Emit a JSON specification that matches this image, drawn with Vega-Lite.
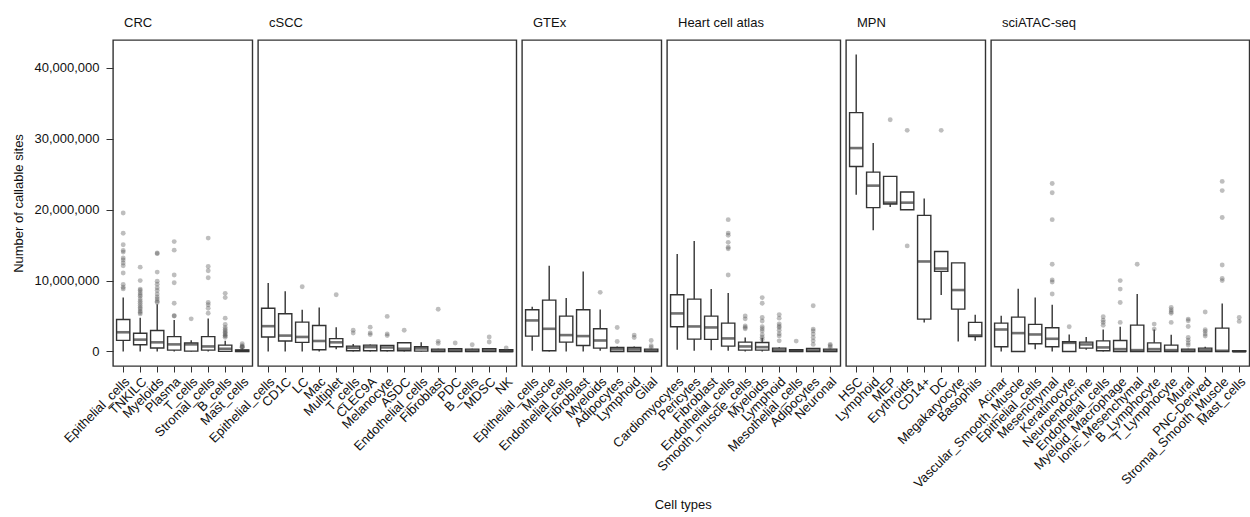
{
  "$schema": "https://vega.github.io/schema/vega-lite/v6.json",
  "padding": {"left": 12, "top": 16, "right": 0, "bottom": 0},
  "background": "white",
  "title": {"text": "Cell types", "orient": "bottom", "anchor": "middle", "frame": "bounds", "fontSize": 13, "fontWeight": "normal", "font": "Liberation Sans", "color": "#111", "offset": 8, "dx": 52},
  "data": {"values": [
    {"ds":"CRC","i":1,"c":"Epithelial_cells","lo":0,"q1":1570000,"md":2710000,"q3":4520000,"hi":7600000,"o":[19530000,16680000,15050000,14250000,14020000,13180000,12900000,12480000,12100000,11070000,9440000,9070000,8830000]},
    {"ds":"CRC","i":2,"c":"TNKILC","lo":0,"q1":950000,"md":1670000,"q3":2570000,"hi":4760000,"o":[11900000,10000000,8800000,8600000,8300000,8000000,7800000,7400000,7100000,6800000,6500000,6200000,6000000,5700000,5500000,5300000]},
    {"ds":"CRC","i":3,"c":"Myeloids","lo":0,"q1":480000,"md":1290000,"q3":2950000,"hi":6670000,"o":[13900000,13800000,11200000,9900000,9500000,9000000,8600000,8100000,7700000,7400000,7100000,6900000]},
    {"ds":"CRC","i":4,"c":"Plasma","lo":0,"q1":190000,"md":1000000,"q3":2100000,"hi":4430000,"o":[15500000,14300000,10800000,9700000,6800000,5000000,5050000]},
    {"ds":"CRC","i":5,"c":"T_cells","lo":0,"q1":50000,"md":1000000,"q3":1210000,"hi":1600000,"o":[4600000]},
    {"ds":"CRC","i":6,"c":"Stromal_cells","lo":0,"q1":190000,"md":710000,"q3":2100000,"hi":4670000,"o":[16000000,12000000,11400000,10400000,6900000,6600000,6100000,5400000]},
    {"ds":"CRC","i":7,"c":"B_cells","lo":0,"q1":20000,"md":380000,"q3":900000,"hi":1500000,"o":[8200000,7600000,4700000,3800000,3400000,3100000,2900000,2700000,2500000,2300000,2200000,2000000]},
    {"ds":"CRC","i":8,"c":"Mast_cells","lo":0,"q1":0,"md":100000,"q3":200000,"hi":450000,"o":[1100000,800000,700000,600000,550000]},
    {"ds":"cSCC","i":1,"c":"Epithelial_cells","lo":0,"q1":2050000,"md":3570000,"q3":6100000,"hi":9670000,"o":[]},
    {"ds":"cSCC","i":2,"c":"CD1C","lo":0,"q1":1480000,"md":2240000,"q3":5330000,"hi":8480000,"o":[]},
    {"ds":"cSCC","i":3,"c":"LC","lo":0,"q1":1290000,"md":2050000,"q3":4140000,"hi":5900000,"o":[9140000]},
    {"ds":"cSCC","i":4,"c":"Mac","lo":0,"q1":240000,"md":1480000,"q3":3670000,"hi":6190000,"o":[]},
    {"ds":"cSCC","i":5,"c":"Multiplet","lo":330000,"q1":670000,"md":1290000,"q3":1810000,"hi":3430000,"o":[8000000]},
    {"ds":"cSCC","i":6,"c":"T_cells","lo":0,"q1":100000,"md":520000,"q3":760000,"hi":1050000,"o":[3000000,2600000]},
    {"ds":"cSCC","i":7,"c":"CLEC9A","lo":0,"q1":100000,"md":620000,"q3":900000,"hi":1000000,"o":[3430000,2620000,2380000]},
    {"ds":"cSCC","i":8,"c":"Melanocyte","lo":0,"q1":100000,"md":570000,"q3":860000,"hi":900000,"o":[4950000,2480000,2240000]},
    {"ds":"cSCC","i":9,"c":"ASDC","lo":0,"q1":100000,"md":380000,"q3":1240000,"hi":1300000,"o":[3000000]},
    {"ds":"cSCC","i":10,"c":"Endothelial_cells","lo":0,"q1":50000,"md":430000,"q3":670000,"hi":1290000,"o":[]},
    {"ds":"cSCC","i":11,"c":"Fibroblast","lo":0,"q1":0,"md":100000,"q3":330000,"hi":400000,"o":[5950000,1430000,1140000]},
    {"ds":"cSCC","i":12,"c":"PDC","lo":0,"q1":0,"md":140000,"q3":380000,"hi":450000,"o":[1190000]},
    {"ds":"cSCC","i":13,"c":"B_cells","lo":0,"q1":0,"md":100000,"q3":330000,"hi":400000,"o":[950000]},
    {"ds":"cSCC","i":14,"c":"MDSC","lo":0,"q1":0,"md":140000,"q3":380000,"hi":450000,"o":[2050000,1330000]},
    {"ds":"cSCC","i":15,"c":"NK","lo":0,"q1":0,"md":50000,"q3":240000,"hi":300000,"o":[480000]},
    {"ds":"GTEx","i":1,"c":"Epithelial_cells","lo":100000,"q1":2170000,"md":4380000,"q3":5890000,"hi":6310000,"o":[]},
    {"ds":"GTEx","i":2,"c":"Muscle","lo":0,"q1":100000,"md":3200000,"q3":7250000,"hi":12100000,"o":[]},
    {"ds":"GTEx","i":3,"c":"Endothelial_cells","lo":0,"q1":1320000,"md":2310000,"q3":4990000,"hi":7540000,"o":[]},
    {"ds":"GTEx","i":4,"c":"Fibroblast","lo":0,"q1":850000,"md":2170000,"q3":5890000,"hi":11300000,"o":[]},
    {"ds":"GTEx","i":5,"c":"Myeloids","lo":100000,"q1":470000,"md":1550000,"q3":3200000,"hi":5930000,"o":[8340000]},
    {"ds":"GTEx","i":6,"c":"Adipocytes","lo":0,"q1":0,"md":330000,"q3":570000,"hi":700000,"o":[3390000,1410000]},
    {"ds":"GTEx","i":7,"c":"Lymphoid","lo":0,"q1":0,"md":300000,"q3":570000,"hi":700000,"o":[2310000,1980000]},
    {"ds":"GTEx","i":8,"c":"Glial","lo":0,"q1":0,"md":100000,"q3":330000,"hi":400000,"o":[1550000,800000,570000]},
    {"ds":"Heart cell atlas","i":1,"c":"Cardiomyocytes","lo":240000,"q1":3490000,"md":5370000,"q3":8000000,"hi":13750000,"o":[]},
    {"ds":"Heart cell atlas","i":2,"c":"Pericytes","lo":100000,"q1":1740000,"md":3530000,"q3":7390000,"hi":15600000,"o":[]},
    {"ds":"Heart cell atlas","i":3,"c":"Fibroblast","lo":190000,"q1":1700000,"md":3390000,"q3":4990000,"hi":8800000,"o":[]},
    {"ds":"Heart cell atlas","i":4,"c":"Endothelial_cells","lo":100000,"q1":750000,"md":1840000,"q3":4000000,"hi":8240000,"o":[18600000,16700000,16400000,15400000,14700000,14500000,10800000]},
    {"ds":"Heart cell atlas","i":5,"c":"Smooth_muscle_cells","lo":0,"q1":190000,"md":710000,"q3":1320000,"hi":1980000,"o":[5000000,4600000,3600000,3400000,3200000]},
    {"ds":"Heart cell atlas","i":6,"c":"Myeloids","lo":0,"q1":190000,"md":610000,"q3":1270000,"hi":1900000,"o":[7600000,6800000,4800000,4300000,3500000,3200000,2900000,2350000,2000000,1700000]},
    {"ds":"Heart cell atlas","i":7,"c":"Lymphoid","lo":0,"q1":0,"md":190000,"q3":470000,"hi":600000,"o":[5200000,4700000,3900000,3600000,3400000,3000000,2500000,2200000,1500000]},
    {"ds":"Heart cell atlas","i":8,"c":"Mesothelial_cells","lo":0,"q1":0,"md":100000,"q3":240000,"hi":300000,"o":[1460000]},
    {"ds":"Heart cell atlas","i":9,"c":"Adipocytes","lo":0,"q1":0,"md":140000,"q3":420000,"hi":500000,"o":[6450000,3160000,2900000,2450000,1980000,1500000,1000000]},
    {"ds":"Heart cell atlas","i":10,"c":"Neuronal","lo":0,"q1":0,"md":100000,"q3":330000,"hi":400000,"o":[1000000,800000,600000]},
    {"ds":"MPN","i":1,"c":"HSC","lo":22100000,"q1":26100000,"md":28700000,"q3":33700000,"hi":41900000,"o":[]},
    {"ds":"MPN","i":2,"c":"Lymphoid","lo":17100000,"q1":20300000,"md":23400000,"q3":25300000,"hi":29400000,"o":[]},
    {"ds":"MPN","i":3,"c":"MEP","lo":20400000,"q1":20800000,"md":21000000,"q3":24700000,"hi":24700000,"o":[32700000]},
    {"ds":"MPN","i":4,"c":"Erythroids","lo":20000000,"q1":20000000,"md":21000000,"q3":22500000,"hi":22500000,"o":[31200000,14900000]},
    {"ds":"MPN","i":5,"c":"CD14+","lo":4100000,"q1":4570000,"md":12700000,"q3":19200000,"hi":21600000,"o":[]},
    {"ds":"MPN","i":6,"c":"DC","lo":7960000,"q1":11300000,"md":11700000,"q3":14100000,"hi":14100000,"o":[31200000]},
    {"ds":"MPN","i":7,"c":"Megakaryocyte","lo":1410000,"q1":5980000,"md":8670000,"q3":12500000,"hi":12500000,"o":[]},
    {"ds":"MPN","i":8,"c":"Basophils","lo":1500000,"q1":2120000,"md":2260000,"q3":4100000,"hi":5180000,"o":[]},
    {"ds":"sciATAC-seq","i":1,"c":"Acinar","lo":0,"q1":660000,"md":3100000,"q3":4000000,"hi":5040000,"o":[]},
    {"ds":"sciATAC-seq","i":2,"c":"Vascular_Smooth_Muscle","lo":0,"q1":0,"md":2590000,"q3":4850000,"hi":8850000,"o":[]},
    {"ds":"sciATAC-seq","i":3,"c":"Epithelial_cells","lo":330000,"q1":1080000,"md":2400000,"q3":3820000,"hi":7630000,"o":[]},
    {"ds":"sciATAC-seq","i":4,"c":"Mesenchymal","lo":0,"q1":660000,"md":1790000,"q3":3340000,"hi":6600000,"o":[23700000,22400000,18600000,12300000,10100000,9800000,8100000]},
    {"ds":"sciATAC-seq","i":5,"c":"Keratinocyte","lo":0,"q1":0,"md":1220000,"q3":1370000,"hi":2400000,"o":[3490000]},
    {"ds":"sciATAC-seq","i":6,"c":"Neuroendocrine","lo":240000,"q1":470000,"md":990000,"q3":1320000,"hi":2030000,"o":[]},
    {"ds":"sciATAC-seq","i":7,"c":"Endothelial_cells","lo":0,"q1":100000,"md":570000,"q3":1500000,"hi":3100000,"o":[4900000,4400000,4100000,3700000]},
    {"ds":"sciATAC-seq","i":8,"c":"Myeloid_Macrophage","lo":0,"q1":0,"md":330000,"q3":1550000,"hi":3490000,"o":[10000000,8800000,6900000,4100000]},
    {"ds":"sciATAC-seq","i":9,"c":"Ionic_Mesenchymal","lo":0,"q1":0,"md":190000,"q3":3720000,"hi":8100000,"o":[12300000]},
    {"ds":"sciATAC-seq","i":10,"c":"B_Lymphocyte","lo":0,"q1":0,"md":330000,"q3":1220000,"hi":3100000,"o":[3860000,3160000]},
    {"ds":"sciATAC-seq","i":11,"c":"T_Lymphocyte","lo":0,"q1":0,"md":190000,"q3":890000,"hi":2360000,"o":[6200000,5900000,5600000,5400000,4100000]},
    {"ds":"sciATAC-seq","i":12,"c":"Mural","lo":0,"q1":0,"md":100000,"q3":330000,"hi":400000,"o":[4570000,4330000,3530000,1980000,1600000,1200000,900000]},
    {"ds":"sciATAC-seq","i":13,"c":"PNC-Derived","lo":0,"q1":0,"md":190000,"q3":470000,"hi":660000,"o":[5560000,3060000,2830000,2450000,2170000]},
    {"ds":"sciATAC-seq","i":14,"c":"Stromal_Smooth_Muscle","lo":0,"q1":0,"md":100000,"q3":3300000,"hi":6780000,"o":[24000000,22700000,18900000,12200000,10300000,10000000]},
    {"ds":"sciATAC-seq","i":15,"c":"Mast_cells","lo":0,"q1":0,"md":0,"q3":100000,"hi":150000,"o":[4800000,4240000]}
  ]},
  "spacing": 5,
  "bounds": "flush",
  "hconcat": [
    {
      "title": {"text": "CRC"},
      "transform": [{"filter": "datum.ds == 'CRC'"}],
      "width": {"step": 17}, "height": 326,
      "encoding": {"x": {"field": "c", "type": "nominal", "sort": {"field": "i", "op": "min"}, "axis": {"title": null}}},
      "layer": [
        {"mark": {"type": "rule", "stroke": "#333", "strokeWidth": 1.4},
         "encoding": {"y": {"field": "lo", "type": "quantitative", "scale": {"domain": [-2050000, 43950000], "nice": false, "zero": false},
           "axis": {"title": "Number of callable sites", "values": [0, 10000000, 20000000, 30000000, 40000000], "format": ",d"}},
           "y2": {"field": "hi"}}},
        {"mark": {"type": "bar", "fill": "white", "stroke": "#333", "strokeWidth": 1.4, "width": {"band": 0.78}},
         "encoding": {"y": {"field": "q1", "type": "quantitative"}, "y2": {"field": "q3"}}},
        {"mark": {"type": "tick", "color": "#333", "thickness": 2.6, "size": 13.3, "orient": "horizontal"},
         "encoding": {"y": {"field": "md", "type": "quantitative"}}},
        {"transform": [{"flatten": ["o"]}],
         "mark": {"type": "circle", "fill": "#555", "opacity": 0.38, "size": 24, "strokeWidth": 0},
         "encoding": {"y": {"field": "o", "type": "quantitative"}}}
      ]
    },
    {
      "title": {"text": "cSCC"},
      "transform": [{"filter": "datum.ds == 'cSCC'"}],
      "width": {"step": 17}, "height": 326,
      "encoding": {"x": {"field": "c", "type": "nominal", "sort": {"field": "i", "op": "min"}, "axis": {"title": null}}},
      "layer": [
        {"mark": {"type": "rule", "stroke": "#333", "strokeWidth": 1.4},
         "encoding": {"y": {"field": "lo", "type": "quantitative", "scale": {"domain": [-2050000, 43950000], "nice": false, "zero": false}, "axis": null},
           "y2": {"field": "hi"}}},
        {"mark": {"type": "bar", "fill": "white", "stroke": "#333", "strokeWidth": 1.4, "width": {"band": 0.78}},
         "encoding": {"y": {"field": "q1", "type": "quantitative", "axis": null}, "y2": {"field": "q3"}}},
        {"mark": {"type": "tick", "color": "#333", "thickness": 2.6, "size": 13.3, "orient": "horizontal"},
         "encoding": {"y": {"field": "md", "type": "quantitative", "axis": null}}},
        {"transform": [{"flatten": ["o"]}],
         "mark": {"type": "circle", "fill": "#555", "opacity": 0.38, "size": 24, "strokeWidth": 0},
         "encoding": {"y": {"field": "o", "type": "quantitative", "axis": null}}}
      ]
    },
    {
      "title": {"text": "GTEx"},
      "transform": [{"filter": "datum.ds == 'GTEx'"}],
      "width": {"step": 17}, "height": 326,
      "encoding": {"x": {"field": "c", "type": "nominal", "sort": {"field": "i", "op": "min"}, "axis": {"title": null}}},
      "layer": [
        {"mark": {"type": "rule", "stroke": "#333", "strokeWidth": 1.4},
         "encoding": {"y": {"field": "lo", "type": "quantitative", "scale": {"domain": [-2050000, 43950000], "nice": false, "zero": false}, "axis": null},
           "y2": {"field": "hi"}}},
        {"mark": {"type": "bar", "fill": "white", "stroke": "#333", "strokeWidth": 1.4, "width": {"band": 0.78}},
         "encoding": {"y": {"field": "q1", "type": "quantitative", "axis": null}, "y2": {"field": "q3"}}},
        {"mark": {"type": "tick", "color": "#333", "thickness": 2.6, "size": 13.3, "orient": "horizontal"},
         "encoding": {"y": {"field": "md", "type": "quantitative", "axis": null}}},
        {"transform": [{"flatten": ["o"]}],
         "mark": {"type": "circle", "fill": "#555", "opacity": 0.38, "size": 24, "strokeWidth": 0},
         "encoding": {"y": {"field": "o", "type": "quantitative", "axis": null}}}
      ]
    },
    {
      "title": {"text": "Heart cell atlas"},
      "transform": [{"filter": "datum.ds == 'Heart cell atlas'"}],
      "width": {"step": 17}, "height": 326,
      "encoding": {"x": {"field": "c", "type": "nominal", "sort": {"field": "i", "op": "min"}, "axis": {"title": null}}},
      "layer": [
        {"mark": {"type": "rule", "stroke": "#333", "strokeWidth": 1.4},
         "encoding": {"y": {"field": "lo", "type": "quantitative", "scale": {"domain": [-2050000, 43950000], "nice": false, "zero": false}, "axis": null},
           "y2": {"field": "hi"}}},
        {"mark": {"type": "bar", "fill": "white", "stroke": "#333", "strokeWidth": 1.4, "width": {"band": 0.78}},
         "encoding": {"y": {"field": "q1", "type": "quantitative", "axis": null}, "y2": {"field": "q3"}}},
        {"mark": {"type": "tick", "color": "#333", "thickness": 2.6, "size": 13.3, "orient": "horizontal"},
         "encoding": {"y": {"field": "md", "type": "quantitative", "axis": null}}},
        {"transform": [{"flatten": ["o"]}],
         "mark": {"type": "circle", "fill": "#555", "opacity": 0.38, "size": 24, "strokeWidth": 0},
         "encoding": {"y": {"field": "o", "type": "quantitative", "axis": null}}}
      ]
    },
    {
      "title": {"text": "MPN"},
      "transform": [{"filter": "datum.ds == 'MPN'"}],
      "width": {"step": 17}, "height": 326,
      "encoding": {"x": {"field": "c", "type": "nominal", "sort": {"field": "i", "op": "min"}, "axis": {"title": null}}},
      "layer": [
        {"mark": {"type": "rule", "stroke": "#333", "strokeWidth": 1.4},
         "encoding": {"y": {"field": "lo", "type": "quantitative", "scale": {"domain": [-2050000, 43950000], "nice": false, "zero": false}, "axis": null},
           "y2": {"field": "hi"}}},
        {"mark": {"type": "bar", "fill": "white", "stroke": "#333", "strokeWidth": 1.4, "width": {"band": 0.78}},
         "encoding": {"y": {"field": "q1", "type": "quantitative", "axis": null}, "y2": {"field": "q3"}}},
        {"mark": {"type": "tick", "color": "#333", "thickness": 2.6, "size": 13.3, "orient": "horizontal"},
         "encoding": {"y": {"field": "md", "type": "quantitative", "axis": null}}},
        {"transform": [{"flatten": ["o"]}],
         "mark": {"type": "circle", "fill": "#555", "opacity": 0.38, "size": 24, "strokeWidth": 0},
         "encoding": {"y": {"field": "o", "type": "quantitative", "axis": null}}}
      ]
    },
    {
      "title": {"text": "sciATAC-seq"},
      "transform": [{"filter": "datum.ds == 'sciATAC-seq'"}],
      "width": {"step": 17}, "height": 326,
      "encoding": {"x": {"field": "c", "type": "nominal", "sort": {"field": "i", "op": "min"}, "axis": {"title": null}}},
      "layer": [
        {"mark": {"type": "rule", "stroke": "#333", "strokeWidth": 1.4},
         "encoding": {"y": {"field": "lo", "type": "quantitative", "scale": {"domain": [-2050000, 43950000], "nice": false, "zero": false}, "axis": null},
           "y2": {"field": "hi"}}},
        {"mark": {"type": "bar", "fill": "white", "stroke": "#333", "strokeWidth": 1.4, "width": {"band": 0.78}},
         "encoding": {"y": {"field": "q1", "type": "quantitative", "axis": null}, "y2": {"field": "q3"}}},
        {"mark": {"type": "tick", "color": "#333", "thickness": 2.6, "size": 13.3, "orient": "horizontal"},
         "encoding": {"y": {"field": "md", "type": "quantitative", "axis": null}}},
        {"transform": [{"flatten": ["o"]}],
         "mark": {"type": "circle", "fill": "#555", "opacity": 0.38, "size": 24, "strokeWidth": 0},
         "encoding": {"y": {"field": "o", "type": "quantitative", "axis": null}}}
      ]
    }
  ],
  "config": {
    "view": {"stroke": "#333", "strokeWidth": 1.4},
    "font": "Liberation Sans",
    "scale": {"bandPaddingInner": 0, "bandPaddingOuter": 0.1},
    "title": {"anchor": "start", "frame": "group", "fontSize": 13, "fontWeight": "normal", "color": "#111", "dx": 11, "offset": 10},
    "axisX": {
      "labelAngle": -45, "labelAlign": "right", "labelBaseline": "top", "labelOverlap": false, "labelBound": false,
      "labelLimit": 300, "labelFontSize": 13, "labelColor": "#111", "labelPadding": 3,
      "domain": false, "tickSize": 6, "tickColor": "#333", "grid": false
    },
    "axisY": {
      "grid": false, "domain": false, "tickSize": 7, "tickColor": "#333", "labelPadding": 7,
      "labelFontSize": 13, "labelColor": "#111", "titleFontSize": 13, "titleFontWeight": "normal",
      "titleColor": "#111", "titlePadding": 8
    }
  }
}
